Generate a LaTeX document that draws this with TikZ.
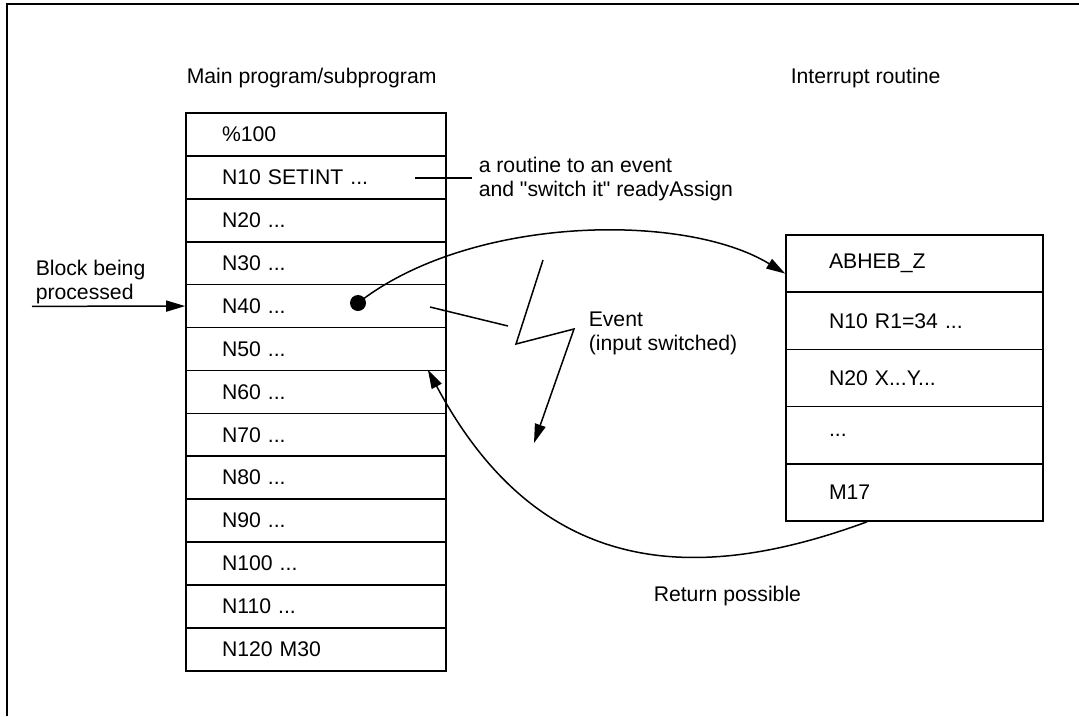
\documentclass[tikz,border=0pt]{standalone}
\usepackage{fontspec}
\setmainfont{Liberation Sans}
\usetikzlibrary{calc, arrows.meta}

\newcommand{\etc}{...}

\tikzset{
  lbl/.style={font=\fontsize{21.2}{24}\selectfont, inner sep=0pt},
  mainrow/.style={lbl, draw, line width=1.6pt, minimum width=260, minimum height=42.9,
    text width=188, inner xsep=36, align=left},
  introw/.style={lbl, draw, line width=1.6pt, minimum width=257, minimum height=57.2,
    text width=171, inner xsep=43, align=left},
  tip/.style={-{Triangle[length=19pt, width=11pt]}},
}

\begin{document}
\begin{tikzpicture}[x=1pt, y=-1pt, line width=1.5pt]
  \useasboundingbox (0,0) rectangle (1079,716);
  % frame, open at right and bottom
  \draw[line width=2.2pt] (7,716) -- (7,4) -- (1079,4);

  \node[lbl, anchor=base west] (maintitle) at (186,83) {Main program/subprogram};
  \node[lbl, anchor=base west] (inttitle) at (790,83) {Interrupt routine};

  % main program blocks
  \foreach \txt [count=\i from 0] in {\%100, N10 SETINT \etc, N20 \etc, N30 \etc, N40 \etc,
      N50 \etc, N60 \etc, N70 \etc, N80 \etc, N90 \etc, N100 \etc, N110 \etc, N120 M30}
    \node[mainrow] (m\i) at (316,134.45+42.9*\i) {\txt};

  % interrupt routine blocks
  \foreach \txt [count=\i from 0] in {ABHEB\_Z, N10 R1=34 \etc, N20 X\etc Y\etc, \etc, M17}
    \node[introw] (r\i) at (914.5,263.6+57.2*\i) {\txt};

  % SETINT remark (base = last line)
  \coordinate (s1) at (415,178);
  \coordinate (s2) at (472,178);
  \draw (s1) -- (s2);
  \node[lbl, anchor=base west, align=left] (assign) at (478,196)
    {a routine to an event\\and \textquotedbl switch it\textquotedbl{} readyAssign};

  % block being processed
  \node[lbl, anchor=base west, align=left] (blk) at (35,299) {Block being\\processed};
  \coordinate (b0) at (32,306.35);
  \draw[tip] (b0) -- (m4.west);

  % current position and jump into the interrupt routine
  \node[circle, fill, inner sep=0pt, minimum size=16] (dot) at (358,303) {};
  \coordinate (ientry) at ($(r0.west)+(0,10)$);
  \draw[tip] (dot.center) .. controls (470,215) and (685,212) .. (ientry);

  % event flash
  \coordinate (e1) at (430,307);
  \coordinate (e2) at (508,326);
  \draw (e1) -- (e2);
  \coordinate (f1) at (543,260);
  \coordinate (f2) at (516,344);
  \coordinate (f3) at (574,329);
  \coordinate (f4) at (534,443);
  \draw[tip] (f1) -- (f2) -- (f3) -- (f4);
  \node[lbl, anchor=base west, align=left] (event) at (588,350) {Event\\(input switched)};

  % return
  \coordinate (rstart) at ($(r4.south)+(-47.5,0)$);
  \coordinate (rend) at ($(m6.north east)+(-19,0)$);
  \draw[tip] (rstart) .. controls (698,584) and (540,580) .. (rend);
  \node[lbl, anchor=base west] (ret) at (653,601) {Return possible};
\end{tikzpicture}
\end{document}
